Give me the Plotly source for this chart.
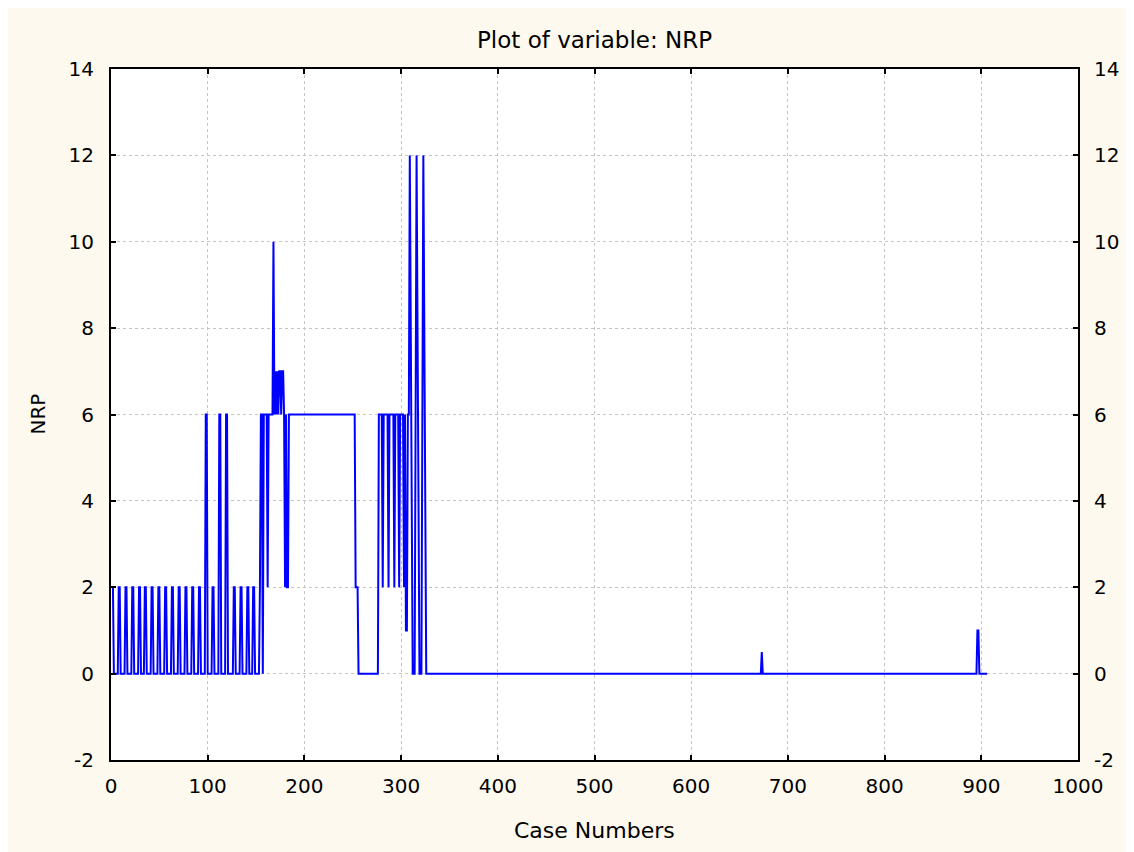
import plotly.graph_objects as go

# Breakpoints of the NRP series (case number, value); the line joins them
case_no = [1, 2, 3, 7, 8, 9, 10, 14, 15, 16, 17, 21, 22, 23, 24, 28, 29, 30, 31,
           34, 35, 36, 37, 41, 42, 43, 44, 48, 49, 50, 51, 55, 56, 57, 58,
           62, 63, 64, 65, 69, 70, 71, 72, 76, 77, 78, 79, 83, 84, 85, 86,
           90, 91, 92, 93, 97, 98, 99, 100, 104, 105, 106, 107, 111, 112, 113, 114,
           118, 119, 120, 121, 126, 127, 128, 129, 133, 134, 135, 136,
           140, 141, 142, 143, 146, 147, 148, 149, 153, 154, 155, 156, 157, 158,
           161, 162, 163, 167, 168, 169, 170, 171, 172, 173, 174, 175, 176, 177, 178,
           179, 180, 181, 182, 183, 184, 252, 253, 255, 256, 276, 277, 280, 281, 282,
           286, 287, 288, 292, 293, 294, 297, 298, 299, 302, 303, 304, 305, 306, 307,
           308, 309, 312, 314, 316, 319, 321, 323, 326, 672, 673, 674, 895, 896, 897,
           898, 906]
nrp = [2, 2, 0, 0, 2, 2, 0, 0, 2, 2, 0, 0, 2, 2, 0, 0, 2, 2, 0,
       0, 2, 2, 0, 0, 2, 2, 0, 0, 2, 2, 0, 0, 2, 2, 0,
       0, 2, 2, 0, 0, 2, 2, 0, 0, 2, 2, 0, 0, 2, 2, 0,
       0, 2, 2, 0, 0, 6, 6, 0, 0, 2, 2, 0, 0, 6, 6, 0,
       0, 6, 6, 0, 0, 2, 2, 0, 0, 2, 2, 0,
       0, 2, 2, 0, 0, 2, 2, 0, 0, 2, 6, 6, 0, 6,
       6, 2, 6, 6, 10, 6, 7, 6, 7, 6, 7, 7, 6, 7, 7,
       6, 2, 6, 2, 2, 6, 6, 2, 2, 0, 0, 6, 6, 2, 6,
       6, 2, 6, 6, 2, 6, 6, 2, 6, 6, 2, 6, 1, 1, 6,
       6, 12, 0, 0, 12, 0, 0, 12, 0, 0, 0.5, 0, 0, 1, 1,
       0, 0]

x_ticks = [0, 100, 200, 300, 400, 500, 600, 700, 800, 900, 1000]
y_ticks = [-2, 0, 2, 4, 6, 8, 10, 12, 14]
y_tick_text = ["-2", "0", "2", "4", "6", "8", "10", "12", "14"]

FONT = "DejaVu Sans, Arial, sans-serif"
CREAM = "#FDF9EE"
GRID = "#C4C4C4"

fig = go.Figure()
fig.add_trace(go.Scatter(x=case_no, y=nrp, mode="lines",
                         line=dict(color="#0000FF", width=2), showlegend=False,
                         hoverinfo="x+y"))
fig.add_trace(go.Scatter(x=[None], y=[None], yaxis="y2", showlegend=False,
                         hoverinfo="skip"))

axis_common = dict(showline=True, linecolor="black", linewidth=2,
                   ticks="inside", ticklen=5, tickwidth=1.5, tickcolor="black",
                   tickfont=dict(family=FONT, size=20, color="black"),
                   zeroline=False)

fig.update_layout(
    width=1134, height=852,
    paper_bgcolor=CREAM, plot_bgcolor="white",
    margin=dict(l=103, r=64, t=61, b=100),
    xaxis=dict(range=[0, 1000], tickvals=x_ticks, mirror="ticks",
               showgrid=True, gridcolor=GRID, griddash="3px,3px", gridwidth=1,
               ticklabelstandoff=7, **axis_common),
    yaxis=dict(range=[-2, 14], tickvals=y_ticks, ticktext=y_tick_text, mirror=True,
               showgrid=True, gridcolor=GRID, griddash="3px,3px", gridwidth=1,
               ticklabelstandoff=11, **axis_common),
    yaxis2=dict(range=[-2, 14], tickvals=y_ticks, ticktext=y_tick_text,
                overlaying="y", side="right",
                showgrid=False, ticklabelstandoff=10, **axis_common),
    annotations=[
        dict(text="Plot of variable: NRP", xref="paper", yref="paper",
             x=0.5, y=1 + 29 / 691, xanchor="center", yanchor="middle",
             showarrow=False, font=dict(family=FONT, size=23, color="black")),
        dict(text="Case Numbers", xref="paper", yref="paper",
             x=0.5, y=-70 / 691, xanchor="center", yanchor="middle",
             showarrow=False, font=dict(family=FONT, size=22, color="black")),
        dict(text="NRP", xref="paper", yref="paper",
             x=-74 / 967, y=0.5, xanchor="center", yanchor="middle",
             textangle=-90, showarrow=False,
             font=dict(family=FONT, size=20, color="black")),
    ],
)

fig.write_html("out.html")
